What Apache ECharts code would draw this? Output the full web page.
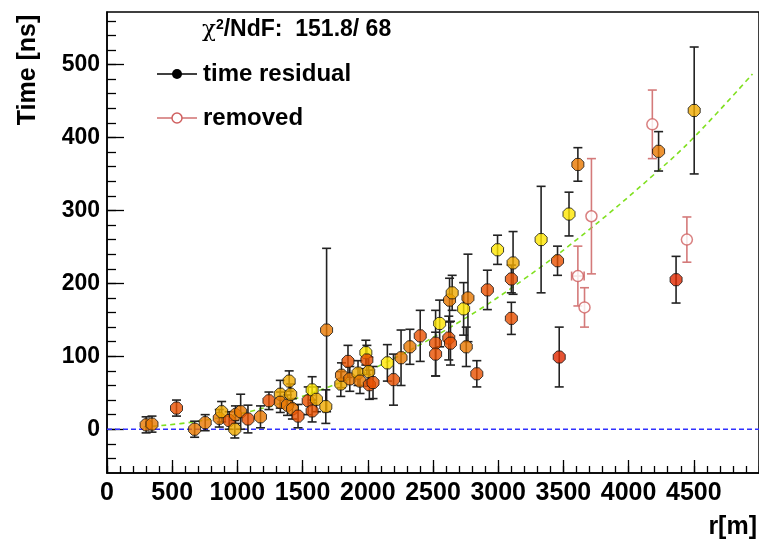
<!DOCTYPE html>
<html><head><meta charset="utf-8">
<script src="https://cdn.jsdelivr.net/npm/echarts@6/dist/echarts.min.js"></script>
<style>html,body{margin:0;padding:0;background:#fff}#c{width:759px;height:544px}</style>
</head><body><div id="c"></div>
<script>
// ---- data ----
const rVals = [300,345,533,672,753,861,879,937,980,985,1025,1081,1177,1242,1329,1329,1384,1397,1409,1422,1465,1543,1573,1573,1606,1678,1684,1793,1798,1848,1862,1925,1940,1985,1993,2007,2012,2040,2150,2197,2255,2323,2402,2520,2520,2551,2621,2634,2627,2647,2735,2768,2755,2836,2917,2995,3101,3101,3114,3329,3455,3468,3543,3611,4230,4364,4503];
const tVals = [6,7,29,0,9,15,24,12,0,20,24,14,17,39,48,37,33,66,48,28,18,39,54,25,41,31,136,62,74,93,69,77,66,105,95,79,61,64,91,68,98,113,128,118,103,145,125,118,177,187,165,180,113,76,191,246,206,152,228,260,231,99,295,363,381,205,437];
const tErr = [11,11,11,11,11,12,14,12,12,12,24,19,15,12,19,14,14,14,14,14,16,19,18,15,17,23,112,17,17,22,17,17,17,17,20,20,20,22,25,35,38,24,35,45,30,32,30,30,30,24,36,60,27,18,27,20,19,22,43,73,20,41,30,23,27,32,87];
const colourClass = [2,2,1,2,2,2,3,1,3,2,2,1,2,1,3,2,2,3,3,2,1,1,4,1,3,3,2,3,2,1,2,3,2,4,1,3,1,1,4,1,2,2,1,1,1,4,1,1,2,3,4,2,2,1,1,4,1,1,3,4,1,0,4,2,2,0,3];
const remR = [3611,3662,3715,4182,4447];
const remT = [210,167,292,418,260];
const remErr = [41,27,79,47,31];
const remRErr = [48,0,0,0,0];
const fitR = [280,700,1200,1700,2100,2700,3200,3700,4200,4500,4950];
const fitT = [3,11,29,58,88,147,206,274,350,400,487];
const xMajorTicks = [0,500,1000,1500,2000,2500,3000,3500,4000,4500,5000];
const xLabels = [0,500,1000,1500,2000,2500,3000,3500,4000,4500];
const xMinorTicks = []; for (let v = 0; v <= 5000; v += 100) xMinorTicks.push(v);
const yMajorTicks = [0,100,200,300,400,500];
const yMinorTicks = []; for (let v = -40; v <= 560; v += 20) yMinorTicks.push(v);
const xRange = [0, 5000];
const yRange = [-60, 572];
// ---------------------------------------

const palette = ['#e02800','#e85000','#e87800','#f0aa00','#ffe600'];
const FONT = 'Liberation Sans';
const octagon = 'path://M3,0 L7,0 L10,3 L10,7 L7,10 L3,10 L0,7 L0,3 Z';

const mainPts = rVals.map((r,i)=>({value:[r,tVals[i]], itemStyle:{color:palette[colourClass[i]]}}));
const mainErr = rVals.map((r,i)=>[r,tVals[i],tErr[i],0]);
const remPts = remR.map((r,i)=>[r,remT[i]]);
const remErrData = remR.map((r,i)=>[r,remT[i],remErr[i],remRErr[i]]);
const fitData = fitR.map((r,i)=>[r,fitT[i]]);

function errRender(color){
  return function(params, api){
    const x=api.value(0), y=api.value(1), e=api.value(2), ex=api.value(3);
    const p=api.coord([x,y]), t=api.coord([x,y+e]), b=api.coord([x,y-e]);
    const cw=4.5, st={stroke:color, lineWidth:1.6};
    const ch=[
      {type:'line', shape:{x1:p[0],y1:t[1],x2:p[0],y2:b[1]}, style:st},
      {type:'line', shape:{x1:p[0]-cw,y1:t[1],x2:p[0]+cw,y2:t[1]}, style:st},
      {type:'line', shape:{x1:p[0]-cw,y1:b[1],x2:p[0]+cw,y2:b[1]}, style:st}
    ];
    if (ex>0){
      const l=api.coord([x-ex,y]), r=api.coord([x+ex,y]);
      ch.push({type:'line', shape:{x1:l[0],y1:p[1],x2:r[0],y2:p[1]}, style:st},
              {type:'line', shape:{x1:l[0],y1:p[1]-cw,x2:l[0],y2:p[1]+cw}, style:st},
              {type:'line', shape:{x1:r[0],y1:p[1]-cw,x2:r[0],y2:p[1]+cw}, style:st});
    }
    return {type:'group', children:ch};
  };
}

const chart = echarts.init(document.getElementById('c'));
const plain = v => String(v);
chart.setOption({
  animation:false,
  backgroundColor:'#fff',
  grid:{left:107, top:12, right:-8, bottom:71, show:true, borderColor:'#000', borderWidth:1.5, backgroundColor:'transparent'},
  xAxis:[
    {type:'value', min:xRange[0], max:xRange[1], position:'bottom',
     axisLine:{show:true, onZero:false, lineStyle:{color:'#000', width:1.5}},
     axisTick:{show:true, inside:true, length:13, customValues:xMajorTicks, lineStyle:{color:'#000', width:1.3}},
     axisLabel:{show:true, fontSize:25, margin:8, customValues:xLabels, formatter:plain, color:'#000', fontWeight:'bold', fontFamily:FONT},
     splitLine:{show:false}},
    {type:'value', min:xRange[0], max:xRange[1], position:'bottom',
     axisLine:{show:false, onZero:false},
     axisTick:{show:true, inside:true, length:7, customValues:xMinorTicks, lineStyle:{color:'#000', width:1.3}},
     axisLabel:{show:false}, splitLine:{show:false}}
  ],
  yAxis:[
    {type:'value', min:yRange[0], max:yRange[1], position:'left',
     axisLine:{show:true, onZero:false, lineStyle:{color:'#000', width:1.5}},
     axisTick:{show:true, inside:true, length:17, customValues:yMajorTicks, lineStyle:{color:'#000', width:1.3}},
     axisLabel:{show:true, fontSize:23, margin:7, customValues:yMajorTicks, formatter:plain, color:'#000', fontWeight:'bold', fontFamily:FONT},
     splitLine:{show:false}},
    {type:'value', min:yRange[0], max:yRange[1], position:'left',
     axisLine:{show:false, onZero:false},
     axisTick:{show:true, inside:true, length:9, customValues:yMinorTicks, lineStyle:{color:'#000', width:1.3}},
     axisLabel:{show:false}, splitLine:{show:false}}
  ],
  graphic:[
    {type:'text', x:28, y:70, rotation:Math.PI/2, style:{text:'Time [ns]', font:'bold 25px "Liberation Sans"', fill:'#000', align:'center', verticalAlign:'middle'}},
    {type:'text', x:757, y:527, style:{text:'r[m]', font:'bold 25px "Liberation Sans"', fill:'#000', align:'right', verticalAlign:'middle'}},
    {type:'text', x:202, y:30, style:{text:'{c|χ}{s|2}{n|/NdF:  151.8/ 68}', fill:'#000', verticalAlign:'middle',
      rich:{c:{font:'23px "DejaVu Serif"', fill:'#000'}, s:{font:'bold 14px "Liberation Sans"', fill:'#000', verticalAlign:'top', padding:[0,0,10,0]}, n:{font:'bold 23px "Liberation Sans"', fill:'#000'}}}},
    {type:'line', shape:{x1:157, y1:74, x2:197, y2:74}, style:{stroke:'#000', lineWidth:1.5}},
    {type:'circle', shape:{cx:177, cy:74, r:5}, style:{fill:'#000'}},
    {type:'text', x:203, y:74, style:{text:'time residual', font:'bold 24px "Liberation Sans"', fill:'#000', verticalAlign:'middle'}},
    {type:'line', shape:{x1:157, y1:118, x2:197, y2:118}, style:{stroke:'#d07070', lineWidth:1.5}},
    {type:'circle', shape:{cx:177, cy:118, r:5}, style:{fill:'#fff', stroke:'#d06060', lineWidth:1.5}},
    {type:'text', x:203, y:118, style:{text:'removed', font:'bold 24px "Liberation Sans"', fill:'#000', verticalAlign:'middle'}}
  ],
  series:[
    {type:'line', data:[[xRange[0],0],[xRange[1],0]], showSymbol:false, symbol:'none', silent:true,
     lineStyle:{color:'#3030ff', width:1.5, type:[5,3]}, z:1},
    {type:'line', data:fitData, smooth:0.4, showSymbol:false, symbol:'none', silent:true, clip:true,
     lineStyle:{color:'#80e020', width:1.6, type:[5,4]}, z:2},
    {type:'custom', data:mainErr, renderItem:errRender('#222'), z:3, silent:true},
    {type:'custom', data:remErrData, renderItem:errRender('#d47a7a'), z:3, silent:true},
    {type:'scatter', data:remPts, symbol:'circle', symbolSize:11, z:4,
     itemStyle:{color:'#fff', borderColor:'#d06060', borderWidth:1.5}},
    {type:'scatter', data:mainPts, symbol:octagon, symbolSize:12, z:5,
     itemStyle:{borderColor:'#111', borderWidth:1}}
  ]
});
</script>
</body></html>
